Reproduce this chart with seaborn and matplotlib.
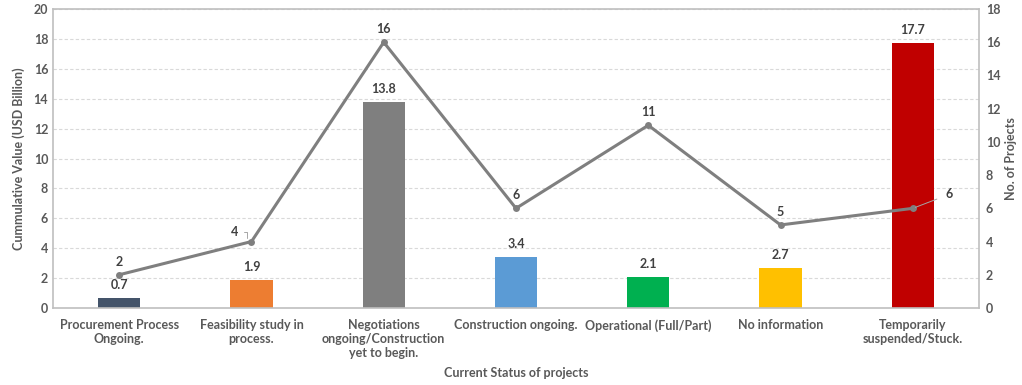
import numpy as np
import pandas as pd
import matplotlib
matplotlib.use("Agg")
import matplotlib.pyplot as plt
import seaborn as sns

categories = [
    "Procurement Process\nOngoing.",
    "Feasibility study in\nprocess.",
    "Negotiations\nongoing/Construction\nyet to begin.",
    "Construction ongoing.",
    "Operational (Full/Part)",
    "No information",
    "Temporarily\nsuspended/Stuck.",
]
value_usd_bn = [0.7, 1.9, 13.8, 3.4, 2.1, 2.7, 17.7]
project_counts = [2, 4, 16, 6, 11, 5, 6]
bar_colors = ["#44546A", "#ED7D31", "#7F7F7F", "#5B9BD5", "#00B050", "#FFC000", "#C00000"]

sns.set_style("white")
plt.rcParams["font.family"] = ["Lato", "DejaVu Sans"]

tick_color = "#595959"
label_color = "#404040"

df = pd.DataFrame({"status": categories, "value": value_usd_bn})

fig = plt.figure(figsize=(10.22, 3.85), dpi=100)
ax = fig.add_axes([0.0519, 0.2, 0.906, 0.7766])

sns.barplot(data=df, x="status", y="value", hue="status", palette=bar_colors,
            legend=False, width=0.32, ax=ax, saturation=1, linewidth=0)

ax.set_ylim(0, 20)
ax.set_yticks(np.arange(0, 21, 2))
ax.set_xlim(-0.5, len(categories) - 0.5)
ax.yaxis.grid(True, linestyle=(0, (3, 2)), color="#D9D9D9", linewidth=0.8)
ax.set_axisbelow(True)
for side in ["top", "left", "right", "bottom"]:
    ax.spines[side].set_color("#BFBFBF")
    ax.spines[side].set_linewidth(1.2)

ax.set_xlabel("Current Status of projects", fontsize=9, fontweight="bold",
              color=tick_color, labelpad=6)
ax.set_ylabel("Cummulative Value (USD Billion)", fontsize=9, fontweight="bold",
              color=tick_color, labelpad=6)
ax.tick_params(axis="both", length=0, labelsize=9, colors=tick_color)
ax.tick_params(axis="x", pad=8)
for t in ax.get_xticklabels() + ax.get_yticklabels():
    t.set_fontweight("bold")

for i, v in enumerate(value_usd_bn):
    ax.annotate(f"{v}", (i, v), xytext=(0, 5), textcoords="offset points",
                ha="center", va="bottom", fontsize=9, fontweight="bold", color=label_color)

ax2 = ax.twinx()
sns.lineplot(x=np.arange(len(categories)), y=project_counts, ax=ax2, color="#7F7F7F",
             linewidth=2.2, marker="o", markersize=5, markeredgewidth=0)
ax2.set_ylim(0, 18)
ax2.set_yticks(np.arange(0, 19, 2))
ax2.set_xlim(-0.5, len(categories) - 0.5)
ax2.set_ylabel("No. of Projects", fontsize=9, fontweight="bold", color=tick_color, labelpad=3)
ax2.tick_params(axis="y", length=0, labelsize=9, colors=tick_color, pad=5)
for t in ax2.get_yticklabels():
    t.set_fontweight("bold")
for side in ["top", "left", "right", "bottom"]:
    ax2.spines[side].set_visible(False)

for i, c in enumerate(project_counts):
    if i == 1:
        ax2.annotate(f"{c}", (i, c), xytext=(-12, 7), textcoords="offset points",
                     ha="center", va="center", fontsize=9, fontweight="bold", color=label_color)
        ax2.plot([i - 0.055, i - 0.03, i - 0.03], [c + 0.55, c + 0.55, c + 0.2],
                 color="#A6A6A6", linewidth=0.7)
    elif i == len(project_counts) - 1:
        ax2.annotate(f"{c}", (i, c), xytext=(26, 10), textcoords="offset points",
                     ha="center", va="center", fontsize=9, fontweight="bold", color=label_color,
                     arrowprops=dict(arrowstyle="-", color="#A6A6A6", linewidth=0.7,
                                     shrinkA=4, shrinkB=2))
    else:
        ax2.annotate(f"{c}", (i, c), xytext=(0, 5), textcoords="offset points",
                     ha="center", va="bottom", fontsize=9, fontweight="bold", color=label_color)

fig.savefig("out.png", dpi=100)
